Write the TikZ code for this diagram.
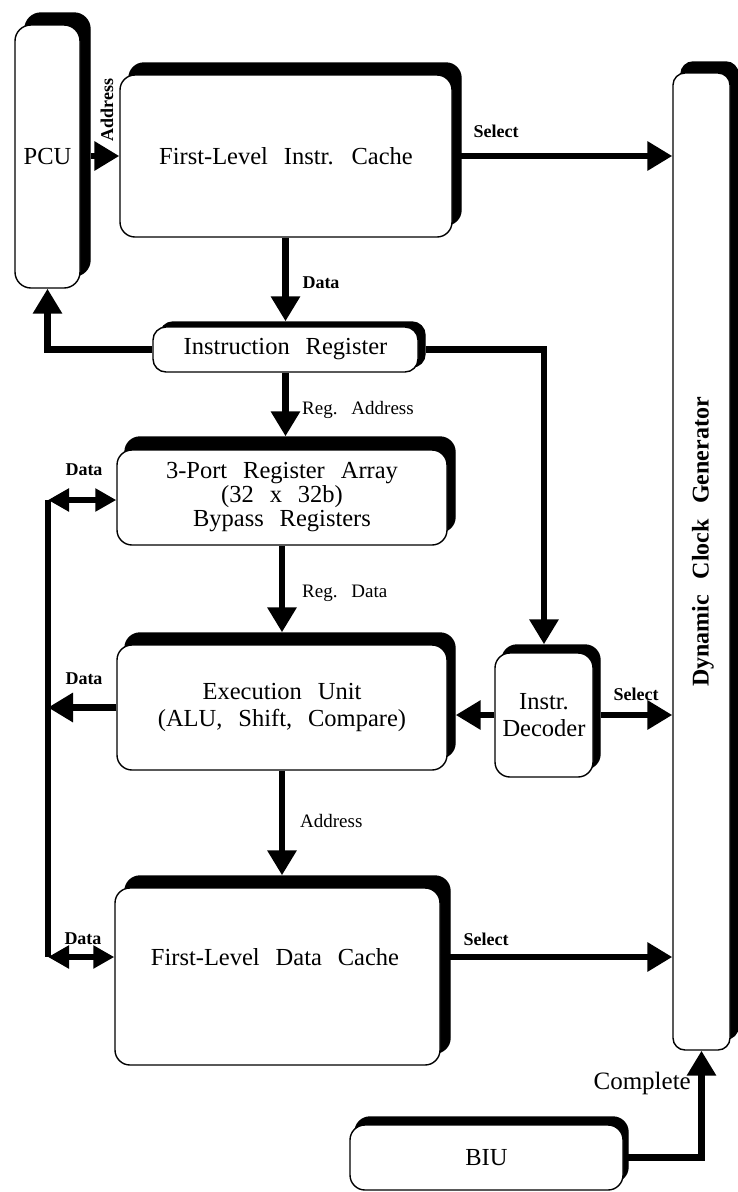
\documentclass[tikz,border=0pt]{standalone}
\usepackage{fontspec}
\setmainfont{Liberation Serif}[WordSpace=2.6]
\usetikzlibrary{arrows.meta,shadows,calc}

\tikzset{
  blk/.style={draw=black, line width=1.4pt, fill=white, rounded corners=15pt,
    inner sep=0pt, align=center, font=\fontsize{24.5}{27}\selectfont},
  shd/.style 2 args={general shadow={fill=black, draw=black, shadow xshift=#1pt, shadow yshift=#2pt}},
  arr/.style={line width=6.5pt, -{Triangle[length=25pt,width=28pt]}},
  dbl/.style={line width=6pt, {Triangle[length=21pt,width=22pt]}-{Triangle[length=21pt,width=22pt]}},
  buswire/.style={line width=5.5pt},
  lab/.style={font=\bfseries\fontsize{18}{20}\selectfont, inner sep=0pt},
  rlab/.style={font=\fontsize{19}{22}\selectfont, inner sep=0pt, anchor=west},
  txt/.style={inner sep=0pt, align=center, font=\fontsize{24.5}{27}\selectfont},
}

\begin{document}
\begin{tikzpicture}[x=1pt, y=-1pt]
\useasboundingbox (0,0) rectangle (738,1192);

% blocks
\node[blk, shd={10}{12}, minimum width=65pt, minimum height=263pt, rounded corners=16pt] (pcu) at (47.5,156.5) {PCU};
\node[blk, shd={9}{12}, minimum width=332pt, minimum height=162pt] (icache) at (286,156) {First-Level Instr. Cache};
\node[blk, shd={8}{11}, minimum width=57pt, minimum height=977pt, rounded corners=12pt] (clk) at (701.5,561.5) {};
\node[txt, rotate=90, font=\bfseries\fontsize{24}{27}\selectfont] (clktxt) at (703,542) {Dynamic Clock Generator};
\node[blk, shd={7}{5}, minimum width=265pt, minimum height=45pt, rounded corners=13pt] (ir) at (285.5,349.5) {Instruction Register};
\node[blk, shd={8}{13}, minimum width=330pt, minimum height=95pt, font=\fontsize{24.5}{24}\selectfont] (reg) at (282,497.5)
  {3-Port Register Array\\(32 x 32b)\\Bypass Registers};
\node[blk, shd={8}{12}, minimum width=330pt, minimum height=125pt] (exec) at (282,707.5)
  {Execution Unit\\(ALU, Shift, Compare)};
\node[blk, shd={7}{8}, minimum width=98pt, minimum height=124pt] (dec) at (544,715) {Instr.\\Decoder};
\node[blk, shd={10}{12}, minimum width=325pt, minimum height=177pt] (dc) at (277.5,976.5) {};
\node[txt] (dctxt) at (275,957) {First-Level Data Cache};
\node[blk, shd={5}{8}, minimum width=273pt, minimum height=65pt] (biu) at (486.5,1157.5) {BIU};

% data bus on the left
\coordinate (busTop) at (48,500);
\coordinate (busBot) at (48,957);
\draw[buswire] (busTop) -- (busBot);

% connectors
\draw[arr] ([xshift=10pt]pcu.east |- icache.west) -- (icache.west);
\draw[arr] (icache.east) -- (icache.east -| clk.west);
\draw[arr] (icache.south -| ir.north) -- ([yshift=5pt]ir.north);
\draw[arr] (ir.west) -| (pcu.south);
\draw[arr] ([xshift=7pt]ir.east) -| ([yshift=8pt]dec.north);
\draw[arr] (ir.south) -- ($(ir.south |- reg.north)+(0,-13)$);
\draw[dbl] (busTop) -- (busTop -| reg.west);
\draw[arr] (reg.south) -- ($(reg.south |- exec.north)+(0,-12)$);
\draw[arr] (exec.west) -- (exec.west -| busTop);
\draw[arr] (dec.west) -- ($(dec.west -| exec.east)+(8,0)$);
\draw[arr] ([xshift=7pt]dec.east) -- (dec.east -| clk.west);
\draw[arr] (exec.south) -- ($(exec.south |- dc.north)+(0,-12)$);
\draw[dbl] (busBot) -- (busBot -| dc.west);
\draw[arr] (busBot -| dc.east) -- (busBot -| clk.west);
\draw[arr] (biu.east) -| (clk.south);

% connector labels
\node[lab, rotate=90] (lPcuAddr) at (107,110) {Address};
\node[lab] (lSel1) at (496,131) {Select};
\node[lab] (lData1) at (321,283) {Data};
\node[rlab] (lRegAddr) at (302,410) {Reg. Address};
\node[lab] (lData2) at (84,470) {Data};
\node[rlab] (lRegData) at (302,593) {Reg. Data};
\node[lab] (lData3) at (84,679) {Data};
\node[lab] (lSel2) at (636,694) {Select};
\node[rlab] (lAddr) at (300,821) {Address};
\node[lab] (lData4) at (83,939) {Data};
\node[lab] (lSel3) at (486,939) {Select};
\node[inner sep=0pt, anchor=east, font=\fontsize{25}{28}\selectfont] (lComplete) at (691,1083) {Complete};
\end{tikzpicture}
\end{document}
